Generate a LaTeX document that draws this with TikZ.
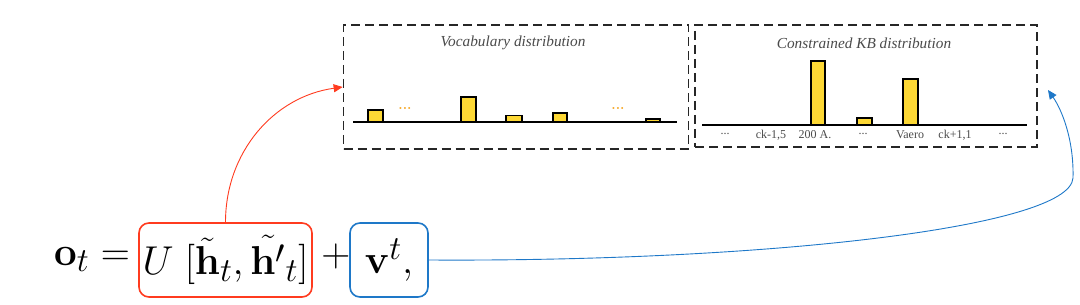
\documentclass[tikz,border=0pt]{standalone}
\usepackage{graphicx}
\usepackage[no-math]{fontspec}
\newfontfamily\labelfont{Liberation Serif}
\usetikzlibrary{arrows.meta}
\definecolor{barY}{HTML}{FDD835}
\definecolor{redC}{HTML}{FF3B1F}
\definecolor{blueC}{HTML}{1E78C8}
\definecolor{txtG}{HTML}{4A4A4A}
\definecolor{dotO}{HTML}{F5A623}
\newcommand{\eqbig}[1]{\scalebox{1.62}{\Huge$#1$}}
\tikzset{
  distbox/.style={draw=black!85, line width=1.7pt, dash pattern=on 9pt off 5pt, inner sep=0pt},
  bar/.style={draw=black, line width=1.1pt, fill=barY},
  axis/.style={draw=black, line width=1.1pt},
  title/.style={font=\labelfont\itshape\fontsize{15.3}{17}\selectfont, text=txtG, inner sep=0pt},
  tick/.style={font=\labelfont\fontsize{12}{14}\selectfont, text=txtG, inner sep=0pt},
  odots/.style={text=dotO, font=\bfseries\fontsize{14}{16}\selectfont, inner sep=0pt},
  fbox/.style={rounded corners=10pt, line width=1.6pt, inner sep=0pt},
}
\begin{document}
\begin{tikzpicture}[x=1pt,y=-1pt]
\useasboundingbox (0,0) rectangle (1080,305);
% distribution boxes
\node[distbox, minimum width=345, minimum height=124] (vocab) at (516,87) {};
\node[distbox, minimum width=342, minimum height=122] (kb) at (866,86) {};
\node[title] (vtitle) at (513,43) {Vocabulary distribution};
\node[title] (ktitle) at (864,43) {Constrained KB distribution};
% vocab bars
\draw[bar] (368,122) rectangle (383,110);
\draw[bar] (461,122) rectangle (476,97);
\draw[bar] (506,122) rectangle (522,115.5);
\draw[bar] (553,122) rectangle (567,113);
\draw[bar] (646,122) rectangle (660,119);
\draw[axis] (353,122) -- (677,122);
\node[odots] (vd1) at (405,108) {...};
\node[odots] (vd2) at (618,108) {...};
% kb bars
\draw[bar] (811,125) rectangle (825,61);
\draw[bar] (857,125) rectangle (872,118);
\draw[bar] (903,125) rectangle (918,79);
\draw[axis] (702,125) -- (1027,125);
\node[tick] (l1) at (725,134) {...};
\node[tick] (l2) at (771,135) {ck-1,5};
\node[tick] (l3) at (815,135) {200 A.};
\node[tick] (l4) at (863,134) {...};
\node[tick] (l5) at (910,135) {Vaero};
\node[tick] (l6) at (955,135) {ck+1,1};
\node[tick] (l7) at (1003,134) {...};
% formula
\node[inner sep=0pt, anchor=base east] (ot) at (130,265) {\eqbig{\mathbf{o}_t =}};
\node[fbox, draw=redC, minimum width=173, minimum height=74] (rb) at (225.5,260) {\eqbig{U\;[\tilde{\mathbf{h}}_t, \tilde{\mathbf{h}'}_t]}};
\node[inner sep=0pt] (plus) at (336,256) {\eqbig{+}};
\node[fbox, draw=blueC, minimum width=78, minimum height=74] (bb) at (389,260) {\eqbig{\mathbf{v}^t,}};
\coordinate (kbtip) at (1048,90);
% connectors
\draw[redC, line width=0.9pt, -{Triangle[length=9pt,width=8pt]}] (rb.north) to[out=90,in=188] (vocab.west);
\draw[blueC, line width=0.9pt, -{Triangle[length=9pt,width=8pt]}] (bb.east) .. controls (760,262) and (1070,228) .. (1073,178) .. controls (1074,140) and (1062,110) .. (kbtip);
\end{tikzpicture}
\end{document}
